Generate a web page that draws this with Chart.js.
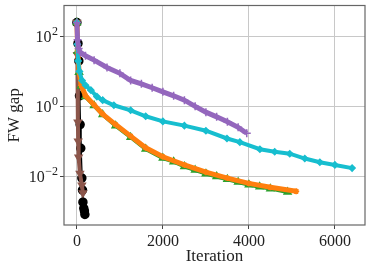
<!DOCTYPE html>
<html>
<head>
<meta charset="utf-8">
<script src="https://cdn.jsdelivr.net/npm/chart.js@4.4.0/dist/chart.umd.min.js"></script>
<style>
  html, body { margin: 0; padding: 0; background: #fff; }
  #wrap { width: 371px; height: 272px; }
</style>
</head>
<body>
<div id="wrap"><canvas id="myChart" width="371" height="272"></canvas></div>
<script>
// values
const purpleX = [0, 15, 40, 80, 200, 400, 700, 1000, 1250, 1500, 1750, 2000, 2250, 2500, 2750, 3000, 3250, 3500, 3750, 3950];
const purpleY = [250, 80, 45, 35, 28, 21, 13, 8.8, 5.5, 4.4, 3.4, 2.6, 2.0, 1.5, 1.0, 0.68, 0.5, 0.36, 0.25, 0.17];

const cyanX = [0, 10, 30, 60, 120, 200, 325, 465, 600, 860, 1250, 1600, 2000, 2500, 3000, 3490, 3790, 4256, 4600, 4950, 5300, 5650, 6000, 6400];
const cyanY = [250, 60, 20, 10, 5.5, 4, 2.9, 1.9, 1.5, 1.07, 0.77, 0.52, 0.37, 0.28, 0.2, 0.12, 0.094, 0.059, 0.05, 0.044, 0.032, 0.025, 0.021, 0.017];

const orangeX = [0, 20, 50, 100, 200, 400, 600, 900, 1250, 1600, 2000, 2500, 3000, 3500, 4000, 4500, 5100];
const orangeY = [250, 40, 10, 4, 2, 1.1, 0.6, 0.3, 0.14, 0.065, 0.036, 0.021, 0.013, 0.0088, 0.0062, 0.0048, 0.0037];

const greenX = [0, 20, 50, 100, 200, 400, 600, 900, 1250, 1600, 2000, 2250, 2500, 2750, 3000, 3250, 3500, 3750, 4000, 4250, 4500, 4900];
const greenY = [250, 38, 9.5, 3.8, 1.9, 1.05, 0.58, 0.28, 0.13, 0.06, 0.033, 0.026, 0.019, 0.015, 0.0118, 0.0098, 0.0081, 0.0068, 0.0057, 0.005, 0.0044, 0.0035];

const blackX = [0, 25, 45, 60, 75, 90, 115, 130, 140, 160, 175, 186];
const blackY = [250, 63, 20, 2, 0.3, 0.063, 0.0088, 0.004, 0.0018, 0.0012, 0.001, 0.0008];

const brownX = [0, 10, 23, 30, 40, 70, 116, 140];
const brownY = [250, 30, 0.35, 0.1, 0.035, 0.012, 0.0055, 0.0033];

const xTicks = [0, 2000, 4000, 6000];
const yTicks = [1e-2, 1, 1e2];
const yExponents = ["\u22122", "0", "2"];

const pts = (xs, ys) => xs.map((x, i) => ({ x: x, y: ys[i] }));

function serie(xs, ys, color, style, order, extra) {
  return Object.assign({
    data: pts(xs, ys),
    borderColor: color,
    backgroundColor: color,
    borderWidth: 4,
    pointStyle: style,
    pointRadius: 3,
    pointBorderWidth: 1.5,
    showLine: true,
    tension: 0,
    order: order,
  }, extra || {});
}

const serif = "'Liberation Serif', 'DejaVu Serif', serif";

// frame round the plot area + the 10^n labels of the y axis
const frame = {
  id: "frame",
  afterDraw(chart) {
    const { ctx, chartArea: { left, right, top, bottom }, scales: { y } } = chart;
    ctx.save();
    ctx.strokeStyle = "#666";
    ctx.lineWidth = 1.2;
    ctx.strokeRect(left, top, right - left, bottom - top);

    ctx.fillStyle = "#222";
    ctx.textBaseline = "alphabetic";
    yTicks.forEach((v, i) => {
      const py = y.getPixelForValue(v);
      const xr = left - 6;
      ctx.font = "12px " + serif;
      const ew = ctx.measureText(yExponents[i]).width;
      ctx.textAlign = "left";
      ctx.fillText(yExponents[i], xr - ew, py - 1);
      ctx.font = "16px " + serif;
      ctx.textAlign = "right";
      ctx.fillText("10", xr - ew - 0.5, py + 6);
    });
    ctx.restore();
  },
};

new Chart(document.getElementById("myChart"), {
  type: "scatter",
  data: {
    datasets: [
      serie(blackX, blackY, "#000000", "circle", 6, { borderWidth: 2, pointRadius: 4 }),
      serie(brownX, brownY, "#8c564b", "triangle", 5, { rotation: 180, pointRadius: 4 }),
      serie(greenX, greenY, "#2ca02c", "triangle", 4, { pointRadius: 4 }),
      serie(orangeX, orangeY, "#ff7f0e", "star", 3, { borderWidth: 5 }),
      serie(cyanX, cyanY, "#17becf", "rectRot", 2),
      serie(purpleX, purpleY, "#9467bd", "cross", 1, { borderWidth: 5, pointRadius: 4 }),
    ],
  },
  options: {
    responsive: false,
    animation: false,
    layout: { padding: { left: 0, right: 6, top: 5, bottom: 0 } },
    plugins: { legend: { display: false }, tooltip: { enabled: false } },
    scales: {
      x: {
        type: "linear",
        min: -300,
        max: 6700,
        afterBuildTicks: (scale) => { scale.ticks = xTicks.map((v) => ({ value: v })); },
        afterFit: (scale) => { scale.height = 47; },
        grid: { color: "#c8c8c8", lineWidth: 1, tickLength: 4, tickColor: "#444" },
        border: { display: false },
        ticks: { color: "#222", font: { family: serif, size: 16 }, padding: 3, maxRotation: 0, callback: (v) => String(v) },
        title: { display: true, text: "Iteration", color: "#222", font: { family: serif, size: 17 }, padding: { top: 0, bottom: 5 } },
      },
      y: {
        type: "logarithmic",
        min: 0.0004,
        max: 770,
        afterBuildTicks: (scale) => { scale.ticks = yTicks.map((v) => ({ value: v })); },
        afterFit: (scale) => { scale.width = 64; },
        grid: { color: "#c8c8c8", lineWidth: 1, tickLength: 4, tickColor: "#444" },
        border: { display: false },
        ticks: { display: false },
        title: { display: true, text: "FW gap", color: "#222", font: { family: serif, size: 17 }, padding: { top: 4, bottom: 0 } },
      },
    },
  },
  plugins: [frame],
});
</script>
</body>
</html>
